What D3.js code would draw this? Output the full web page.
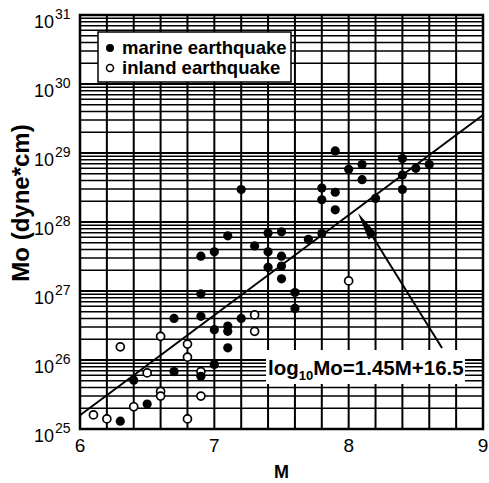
<!DOCTYPE html>
<html>
<head>
<meta charset="utf-8">
<script src="https://cdn.jsdelivr.net/npm/d3@7"></script>
<style>
  body { margin: 0; background: #fff; }
  svg { display: block; font-family: "Liberation Sans", Arial, sans-serif; }
</style>
</head>
<body>
<svg id="chart" width="489" height="483"></svg>
<script>
// marine earthquakes (filled dots): magnitude M and moment Mo (dyne*cm)
var marineM  = [6.3, 6.4, 6.5, 6.7, 6.7, 6.9, 6.9, 6.9, 6.9, 7.0, 7.0, 7.0, 7.1, 7.1, 7.1, 7.1,
                7.2, 7.2, 7.3, 7.4, 7.4, 7.4, 7.5, 7.5, 7.5, 7.5, 7.6, 7.6, 7.7, 7.8, 7.8, 7.8,
                7.9, 7.9, 7.9, 8.0, 8.1, 8.1, 8.2, 8.4, 8.4, 8.4, 8.5, 8.6];
var marineMo = [1.3e25, 5.1e25, 2.3e25, 6.8e25, 4.0e26, 5.8e25, 4.3e26, 9.1e26, 3.2e27, 2.75e26, 3.7e27, 8.6e25, 3.1e26, 2.6e26, 1.5e26, 6.3e27,
                4.0e26, 2.95e28, 4.5e27, 6.9e27, 3.7e27, 2.2e27, 7.2e27, 3.2e27, 2.3e27, 1.5e27, 9.5e26, 5.6e26, 5.6e27, 6.8e27, 3.1e28, 2.1e28,
                1.07e29, 2.7e28, 1.5e28, 5.8e28, 6.8e28, 4.1e28, 2.2e28, 8.3e28, 4.8e28, 2.95e28, 6.0e28, 6.8e28];

// inland earthquakes (open circles)
var inlandM  = [6.1, 6.2, 6.3, 6.4, 6.5, 6.6, 6.6, 6.6, 6.8, 6.8, 6.8, 6.9, 6.9, 7.3, 7.3, 8.0];
var inlandMo = [1.6e25, 1.4e25, 1.55e26, 2.1e25, 6.5e25, 2.2e26, 3.5e25, 3.0e25, 1.7e26, 1.1e26, 1.4e25, 6.8e25, 3.0e25, 4.5e26, 2.6e26, 1.4e27];

var xTicks = [6, 7, 8, 9];
var yExps = [25, 26, 27, 28, 29, 30, 31];
var fitSlope = 1.45, fitIntercept = 16.5;   // log10 Mo = 1.45M + 16.5
var legendLabels = ["marine earthquake", "inland earthquake"];

var svg = d3.select("#chart");
var margin = {top: 15, left: 80, right: 6, bottom: 54};
var w = 489 - margin.left - margin.right;
var h = 483 - margin.top - margin.bottom;

var x = d3.scaleLinear().domain([6, 9]).range([0, w]);
var y = d3.scaleLog().domain([1e25, 1e31]).range([h, 0]);

var g = svg.append("g").attr("transform", "translate(" + margin.left + "," + margin.top + ")");

// grid
var vLines = x.ticks(15);
g.selectAll(".vgrid").data(vLines).enter().append("line")
  .attr("x1", function(d){ return x(d); }).attr("x2", function(d){ return x(d); })
  .attr("y1", 0).attr("y2", h)
  .attr("stroke", "#000").attr("stroke-width", 2);

var hLines = y.ticks();
g.selectAll(".hgrid").data(hLines).enter().append("line")
  .attr("x1", 0).attr("x2", w)
  .attr("y1", function(d){ return y(d); }).attr("y2", function(d){ return y(d); })
  .attr("stroke", "#000")
  .attr("stroke-width", function(d){ return Math.abs(Math.log10(d) - Math.round(Math.log10(d))) < 1e-9 ? 2 : 1.5; });

// fitted line
g.append("line")
  .attr("x1", x(6)).attr("y1", y(Math.pow(10, fitSlope * 6 + fitIntercept)))
  .attr("x2", x(9)).attr("y2", y(Math.pow(10, fitSlope * 9 + fitIntercept)))
  .attr("stroke", "#000").attr("stroke-width", 2);

// equation label with white patch
g.append("rect").attr("x", 186).attr("y", 335).attr("width", 199).attr("height", 34).attr("fill", "#fff");
var eq = g.append("text").attr("x", 188).attr("y", 360)
  .attr("font-size", 20.5).attr("font-weight", "bold");
eq.append("tspan").text("log");
eq.append("tspan").attr("font-size", 13).attr("dy", 5).text("10");
eq.append("tspan").attr("dy", -5).text("Mo=1.45M+16.5");

// arrow pointing at the line
var tail = [362, 333], tip = [278, 198];
g.append("line").attr("x1", tail[0]).attr("y1", tail[1]).attr("x2", tip[0] + 8).attr("y2", tip[1] + 13)
  .attr("stroke", "#000").attr("stroke-width", 2);
var ang = Math.atan2(tail[1] - tip[1], tail[0] - tip[0]);
var L = 28, W = 5;
var bx = tip[0] + L * Math.cos(ang), by = tip[1] + L * Math.sin(ang);
g.append("path")
  .attr("d", "M" + tip[0] + "," + tip[1] +
    "L" + (bx - W * Math.sin(ang)) + "," + (by + W * Math.cos(ang)) +
    "L" + (bx + W * Math.sin(ang)) + "," + (by - W * Math.cos(ang)) + "Z")
  .attr("fill", "#000");

// points
var marine = marineM.map(function(m, i){ return {M: m, Mo: marineMo[i]}; });
var inland = inlandM.map(function(m, i){ return {M: m, Mo: inlandMo[i]}; });

g.selectAll(".inland").data(inland).enter().append("circle")
  .attr("cx", function(d){ return x(d.M); }).attr("cy", function(d){ return y(d.Mo); })
  .attr("r", 4).attr("fill", "#fff").attr("stroke", "#000").attr("stroke-width", 1.7);

g.selectAll(".marine").data(marine).enter().append("circle")
  .attr("cx", function(d){ return x(d.M); }).attr("cy", function(d){ return y(d.Mo); })
  .attr("r", 4.6).attr("fill", "#000");

// legend
var lg = g.append("g").attr("transform", "translate(18,17)");
lg.append("rect").attr("width", 193).attr("height", 50).attr("fill", "#fff")
  .attr("stroke", "#000").attr("stroke-width", 1.5);
lg.append("circle").attr("cx", 12).attr("cy", 16).attr("r", 4).attr("fill", "#000");
lg.append("circle").attr("cx", 12).attr("cy", 36).attr("r", 3.5).attr("fill", "#fff")
  .attr("stroke", "#000").attr("stroke-width", 1.5);
lg.selectAll(".lt").data(legendLabels).enter().append("text")
  .attr("x", 24).attr("y", function(d, i){ return 22 + i * 20; })
  .attr("font-size", 18.5).attr("font-weight", "bold").text(function(d){ return d; });

// frame
g.append("rect").attr("width", w).attr("height", h).attr("fill", "none")
  .attr("stroke", "#000").attr("stroke-width", 2.5);

// y tick labels 10^n
var yl = g.selectAll(".ylab").data(yExps).enter().append("text")
  .attr("x", -46).attr("y", function(d){ return y(Math.pow(10, d)) + 13; })
  .attr("font-size", 18);
yl.append("tspan").text("10");
yl.append("tspan").attr("font-size", 14).attr("dx", 1).attr("dy", -9).text(function(d){ return d; });

// x tick labels
g.selectAll(".xlab").data(xTicks).enter().append("text")
  .attr("x", function(d){ return x(d); }).attr("y", h + 23)
  .attr("text-anchor", "middle").attr("font-size", 19).text(function(d){ return d; });

// axis titles
svg.append("text").attr("x", margin.left + x(7.5)).attr("y", 478)
  .attr("text-anchor", "middle").attr("font-size", 18).attr("font-weight", "bold").text("M");
svg.append("text").attr("transform", "translate(29,203) rotate(-90)")
  .attr("text-anchor", "middle").attr("font-size", 24).attr("font-weight", "bold").text("Mo (dyne*cm)");
</script>
</body>
</html>
